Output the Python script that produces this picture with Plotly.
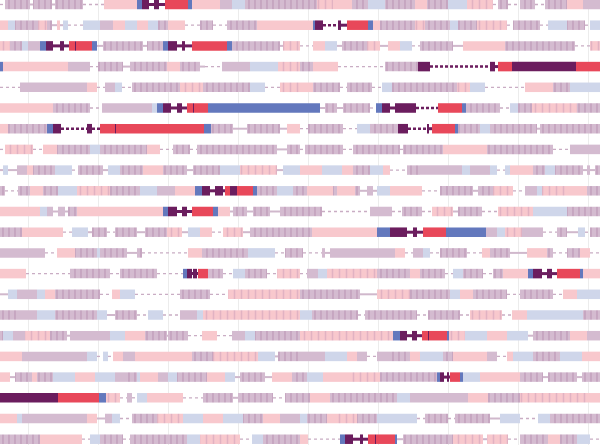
import plotly.graph_objects as go

# Each row: segments "code:start-end" along the position axis (0-600)
# codes: p pink, l lavender, b light blue, s striped lavender, t striped pink,
#        D dark purple, R red, U blue, '.' dotted gap, '-' thin link,
#        '=' highlighted link, ':' highlighted dashed link
row_00 = ".:0-5 s:5-30 -:30-33 s:33-52 -:52-55 s:55-83 .:83-104 p:104-137 U:137-142 D:142-149 =:149-154 D:154-159 =:159-165 R:165-188 U:188-192 p:192-220 l:220-232 b:232-245 s:245-317 t:317-333 p:333-352 s:352-368 b:368-385 s:385-415 p:415-427 s:427-448 b:448-467 t:467-493 .:493-498 s:498-508 .:508-520 s:520-535 .:535-545 s:545-567 p:567-583 l:583-600"
row_01 = "p:0-8 b:8-15 s:15-38 t:38-47 s:47-52 -:52-57 p:57-60 -:60-63 b:63-68 .:68-83 b:83-100 l:100-113 p:113-125 b:125-137 p:137-148 b:148-158 s:158-168 p:168-185 .:185-200 s:200-213 .:213-227 s:227-257 p:257-313 U:313-315 D:315-323 :323-338 D:338-341 =:341-347 R:347-368 U:368-373 p:373-380 s:380-415 t:415-425 s:425-450 b:450-458 s:458-477 t:477-507 .:507-513 s:513-540 .:540-548 b:548-567 s:567-585 .:585-590 b:590-600"
row_02 = "t:0-10 s:10-22 b:22-28 l:28-40 U:40-46 D:46-53 =:53-60 D:60-64 =:64-69 R:69-75 D:75-76 R:76-92 U:92-97 -:97-103 s:103-143 -:143-147 s:147-163 U:163-168 D:168-177 =:177-182 D:182-185 =:185-192 R:192-227 U:227-232 s:232-280 -:280-283 t:283-300 .:300-313 p:313-325 b:325-337 -:337-342 s:342-367 t:367-380 -:380-388 p:388-400 b:400-412 .:412-420 s:420-453 -:453-463 p:463-505 s:505-575 .:575-590 t:590-600"
row_03 = "U:0-3 p:3-68 l:68-90 .:90-98 s:98-123 -:123-130 s:130-167 p:167-180 s:180-200 -:200-205 .:205-222 l:222-250 b:250-278 t:278-300 s:300-313 p:313-338 .:338-385 s:385-418 D:418-430 ::430-490 D:490-495 =:495-498 R:498-512 D:512-576 R:576-600"
row_04 = ".:0-20 l:20-87 p:87-97 .:97-105 l:105-115 b:115-122 .:122-132 s:132-180 t:180-203 s:203-250 b:250-265 .:265-280 t:280-300 p:300-313 s:313-340 .:340-347 s:347-372 .:372-382 b:382-392 s:392-457 t:457-470 b:470-485 .:485-525 p:525-553 s:553-570 b:570-600"
row_05 = "p:0-53 s:53-90 .:90-102 l:102-152 b:152-157 U:157-163 D:163-171 =:171-177 D:177-182 =:182-187 R:187-193 D:193-194 R:194-208 U:208-320 -:320-325 s:325-337 -:337-343 s:343-370 .:370-376 U:376-382 D:382-390 =:390-395 D:395-416 ::416-438 R:438-462 U:462-466 s:466-500 .:500-510 b:510-518 s:518-532 t:532-577 s:577-600"
row_06 = "p:0-8 s:8-47 U:47-53 D:53-61 ::61-87 D:87-92 ::92-100 R:100-115 D:115-116 R:116-204 U:204-211 s:211-233 -:233-247 s:247-280 -:280-287 p:287-300 .:300-308 s:308-343 .:343-357 b:357-370 s:370-398 D:398-408 ::408-427 D:427-429 =:429-432 R:432-455 U:455-458 s:458-480 b:480-490 s:490-537 -:537-540 s:540-600"
row_07 = ".:0-5 t:5-33 .:33-43 p:43-57 s:57-90 b:90-100 s:100-147 p:147-160 .:160-173 s:173-190 .:190-197 s:197-277 -:277-287 s:287-300 .:300-305 s:305-343 .:343-353 s:353-400 .:400-403 s:403-443 p:443-487 s:487-553 .:553-570 l:570-600"
row_08 = "-:0-3 b:3-8 -:8-17 l:17-27 p:27-33 s:33-55 b:55-72 .:72-78 s:78-103 -:103-108 b:108-120 s:120-143 p:143-163 s:163-187 -:187-193 s:193-220 b:220-240 t:240-277 -:277-283 b:283-300 p:300-322 b:322-342 p:342-353 s:353-370 b:370-383 p:383-390 .:390-407 s:407-420 l:420-462 b:462-470 l:470-490 b:490-497 .:497-505 b:505-510 p:510-533 s:533-545 b:545-555 s:555-583 -:583-587 s:587-590 -:590-595 s:595-600"
row_09 = "s:0-5 .:5-18 s:18-30 p:30-43 s:43-58 b:58-77 t:77-110 s:110-140 b:140-157 l:157-175 p:175-195 U:195-202 D:202-210 =:210-215 D:215-223 =:223-225 R:225-230 D:230-237 R:237-253 U:253-257 s:257-277 b:277-293 s:293-307 p:307-333 s:333-337 p:337-355 s:355-360 -:360-367 l:367-373 -:373-377 b:377-390 p:390-422 .:422-440 s:440-473 -:473-478 s:478-493 t:493-513 .:513-525 l:525-537 b:537-542 t:542-567 p:567-587 s:587-600"
row_10 = "p:0-40 b:40-47 l:47-53 -:53-58 l:58-65 -:65-68 s:68-77 p:77-163 U:163-168 D:168-177 =:177-182 D:182-187 =:187-192 R:192-213 U:213-218 p:218-230 -:230-233 s:233-247 -:247-253 s:253-270 -:270-280 s:280-322 .:322-370 l:370-392 .:392-402 s:402-422 .:422-432 t:432-453 -:453-458 s:458-482 .:482-498 t:498-533 b:533-567 s:567-600"
row_11 = "s:0-22 p:22-63 .:63-72 b:72-88 -:88-92 s:92-107 .:107-115 s:115-137 -:137-145 s:145-167 t:167-182 -:182-188 b:188-200 p:200-212 .:212-223 t:223-243 -:243-250 s:250-312 p:312-377 U:377-390 D:390-407 =:407-413 D:413-417 =:417-423 R:423-446 U:446-486 l:486-497 b:497-505 t:505-522 l:522-543 .:543-557 s:557-567 -:567-578 b:578-585 .:585-590 s:590-600"
row_12 = "l:0-45 .:45-57 p:57-75 s:75-97 b:97-100 s:100-127 -:127-137 s:137-142 .:142-188 p:188-202 s:202-248 b:248-275 .:275-285 s:285-303 .:303-322 s:322-325 -:325-330 l:330-395 p:395-405 .:405-413 l:413-423 b:423-430 .:430-440 s:440-467 .:467-482 p:482-490 s:490-510 -:510-527 p:527-547 s:547-553 .:553-567 s:567-580 p:580-590 .:590-600"
row_13 = "p:0-26 .:26-70 s:70-110 .:110-120 s:120-157 .:157-183 U:183-187 D:187-192 =:192-193 D:193-197 =:197-198 R:198-208 s:208-223 .:223-233 b:233-245 s:245-267 .:267-277 t:277-300 .:300-307 l:307-318 b:318-327 t:327-377 s:377-410 p:410-420 s:420-445 .:445-453 b:453-463 s:463-483 .:483-493 s:493-503 p:503-528 U:528-533 D:533-542 =:542-547 D:547-552 =:552-557 R:557-580 U:580-583 p:583-600"
row_14 = "-:0-8 b:8-17 l:17-37 b:37-45 p:45-55 s:55-100 .:100-112 p:112-120 b:120-135 .:135-180 s:180-210 .:210-228 t:228-300 s:300-360 -:360-377 t:377-410 s:410-450 b:450-460 p:460-473 s:473-507 .:507-520 s:520-553 .:553-563 p:563-577 b:577-600"
row_15 = "s:0-17 l:17-37 b:37-55 s:55-97 b:97-107 -:107-115 s:115-137 .:137-148 b:148-163 .:163-180 l:180-197 b:197-203 t:203-300 b:300-312 s:312-358 .:358-365 s:365-417 .:417-428 s:428-460 .:460-470 t:470-502 .:502-512 p:512-527 b:527-583 s:583-600"
row_16 = "s:0-3 b:3-13 l:13-25 t:25-50 s:50-67 -:67-70 l:70-110 b:110-125 p:125-145 s:145-167 -:167-168 s:168-188 .:188-202 p:202-217 .:217-232 l:232-245 b:245-255 s:255-300 t:300-393 U:393-400 D:400-407 =:407-412 D:412-417 =:417-422 R:422-428 D:428-429 R:429-447 U:447-449 t:449-465 b:465-487 p:487-507 b:507-528 -:528-533 s:533-570 p:570-587 l:587-600"
row_17 = "p:0-22 l:22-87 b:87-97 .:97-103 b:103-108 .:108-113 p:113-123 l:123-135 p:135-192 s:192-213 t:213-258 b:258-275 -:275-278 s:278-300 l:300-325 b:325-347 p:347-357 l:357-367 .:367-377 l:377-390 s:390-410 p:410-420 b:420-443 s:443-453 p:453-487 l:487-497 .:497-507 p:507-513 b:513-533 s:533-560 b:560-582 p:582-600"
row_18 = "p:0-10 -:10-15 s:15-32 p:32-37 s:37-53 b:53-75 p:75-95 b:95-115 l:115-125 s:125-137 b:137-140 p:140-158 l:158-168 b:168-177 s:177-207 p:207-225 b:225-235 -:235-240 s:240-265 -:265-272 p:272-292 s:292-307 b:307-323 p:323-350 t:350-380 s:380-437 U:437-440 D:440-444 =:444-447 D:447-449 =:449-450 R:450-460 U:460-463 b:463-480 p:480-520 s:520-543 -:543-548 s:548-577 -:577-582 s:582-600"
row_19 = "D:0-58 R:58-99 U:99-106 t:106-120 .:120-127 l:127-132 .:132-137 b:137-147 p:147-183 .:183-203 s:203-233 -:233-238 s:238-273 .:273-285 s:285-310 p:310-330 s:330-397 b:397-410 l:410-468 p:468-488 s:488-520 t:520-590 p:590-600"
row_20 = "p:0-17 b:17-22 l:22-87 p:87-97 -:97-105 l:105-112 b:112-120 .:120-132 s:132-157 t:157-183 b:183-203 p:203-223 b:223-243 s:243-263 p:263-280 l:280-300 b:300-307 s:307-327 p:327-338 t:338-357 s:357-377 b:377-417 .:417-425 s:425-448 .:448-455 s:455-490 -:490-500 b:500-520 .:520-538 b:538-550 s:550-600"
row_21 = "s:0-40 p:40-82 .:82-90 b:90-100 s:100-123 .:123-130 s:130-187 b:187-200 t:200-240 .:240-252 b:252-263 s:263-300 p:300-308 .:308-340 U:340-345 D:345-353 =:353-360 D:360-363 =:363-368 R:368-375 D:375-376 R:376-395 U:395-397 -:397-403 s:403-453 t:453-483 -:483-487 t:487-508 .:508-520 s:520-548 p:548-560 s:560-577 b:577-590 .:590-600"

rows = [row_00, row_01, row_02, row_03, row_04, row_05, row_06, row_07, row_08, row_09, row_10,
        row_11, row_12, row_13, row_14, row_15, row_16, row_17, row_18, row_19, row_20, row_21]

grid_positions = [28, 98, 168, 238, 308, 378, 448, 518, 588]

bar_styles = {
    "p": dict(color="#f8c8cd"),
    "l": dict(color="#d4bbd0"),
    "b": dict(color="#cfd6ea"),
    "s": dict(color="#d4bbd0", pattern=dict(shape="|", size=6, solidity=0.28, fgcolor="#b48aac", fillmode="overlay")),
    "t": dict(color="#f8c8cd", pattern=dict(shape="|", size=7, solidity=0.22, fgcolor="#c99cb8", fillmode="overlay")),
    "D": dict(color="#6b1d5e"),
    "R": dict(color="#e8485a"),
    "U": dict(color="#6378bd"),
}
line_styles = {
    ".": dict(color="#c9adc4", width=1.3, dash="dot"),
    "-": dict(color="#d0b8cc", width=2),
    "=": dict(color="#6b1d5e", width=3),
    ":": dict(color="#6b1d5e", width=2.5, dash="3px,2px"),
}


def parse_token(tok):
    code = tok[0]
    rest = tok[1:]
    if rest.startswith(":"):
        rest = rest[1:]
    a, b = (float(v) for v in rest.split("-"))
    return code, a, b


bars = {k: dict(y=[], base=[], x=[]) for k in bar_styles}
lines = {k: dict(x=[], y=[]) for k in line_styles}

for i, row in enumerate(rows):
    for tok in row.split():
        code, a, b = parse_token(tok)
        if code in bars:
            bars[code]["y"].append(i)
            bars[code]["base"].append(a)
            bars[code]["x"].append(b - a)
        else:
            lines[code]["x"] += [a, b, None]
            lines[code]["y"] += [i, i, None]

fig = go.Figure()
for k, d in lines.items():
    fig.add_trace(go.Scatter(x=d["x"], y=d["y"], mode="lines", line=line_styles[k],
                             hoverinfo="skip", showlegend=False))
for k, d in bars.items():
    mk = dict(bar_styles[k])
    mk["line"] = dict(width=0)
    fig.add_trace(go.Bar(y=d["y"], x=d["x"], base=d["base"], orientation="h",
                         width=0.46, marker=mk, hoverinfo="skip", showlegend=False))

fig.update_layout(
    width=600, height=445, margin=dict(l=0, r=0, t=0, b=0),
    paper_bgcolor="white", plot_bgcolor="white", barmode="overlay",
    xaxis=dict(range=[0, 600], tickvals=grid_positions, showticklabels=False,
               showgrid=True, gridcolor="#ececec", gridwidth=1, zeroline=False, ticks=""),
    yaxis=dict(range=[21.28, -0.217], showgrid=False, zeroline=False,
               showticklabels=False, ticks=""),
)
fig.write_html("out.html", config={"displayModeBar": False, "staticPlot": True},
               post_script="document.body.style.margin='0';document.body.style.overflow='hidden';")
